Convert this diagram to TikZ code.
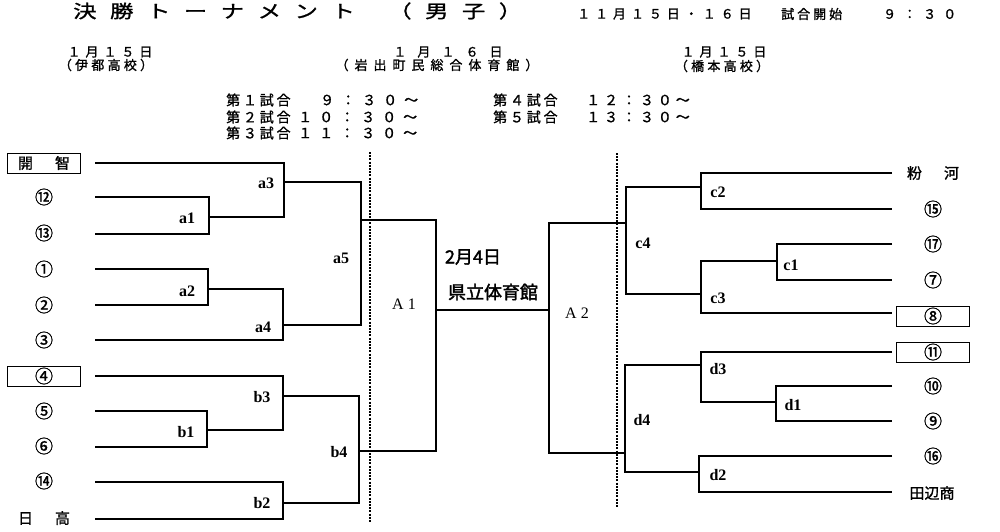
\documentclass[tikz,border=0pt]{standalone}
\usepackage{fontspec}
\setmainfont{Liberation Serif}
\newfontfamily\jp{Noto Sans CJK JP}[FakeBold=1.2]
\newfontfamily\jpbold{Noto Sans CJK JP}[FakeBold=2]
\newfontfamily\jptitle{Noto Sans CJK JP}[FakeStretch=1.3,FakeBold=1.2]
\newcommand\jpls[2]{\jp\fontsize{#1}{#1}\selectfont\addfontfeature{LetterSpace=#2}}

\tikzset{
  bracket/.style={line width=1.1pt},
  divider/.style={line width=1.3pt, dash pattern=on 2pt off 1.2pt},
  team/.style={inner sep=0pt, font=\jp\fontsize{18}{18}\selectfont},
  kanji/.style={inner sep=0pt, font=\jp\fontsize{15}{15}\selectfont},
  seed/.style={draw, line width=1pt, minimum width=73pt, minimum height=20pt,
    inner sep=0pt, font=\jp\fontsize{18}{18}\selectfont},
  match/.style={inner sep=0pt, font=\bfseries\fontsize{16}{16}\selectfont},
  final/.style={inner sep=0pt, font=\fontsize{16}{16}\selectfont},
}

\begin{document}
\begin{tikzpicture}[x=1pt,y=-1pt]
    \useasboundingbox (0,0) rectangle (1000,531);

    % Heading
    \node[anchor=west, inner sep=0pt, font=\jptitle\fontsize{18}{18}\selectfont\addfontfeature{LetterSpace=75}] (title) at (73,11) {決勝トーナメント};
    \node[anchor=west, inner sep=0pt, font=\jptitle\fontsize{18}{18}\selectfont\addfontfeature{LetterSpace=75}] (sex) at (388,11) {（男子）};
    \node[anchor=west, inner sep=0pt, font={\jpls{13}{38}}] (days) at (577,14) {１１月１５日・１６日};
    \node[anchor=west, inner sep=0pt, font={\jpls{13}{23}}] (start) at (781,14) {試合開始};
    \node[anchor=west, inner sep=0pt, font={\jpls{13}{54}}] (time) at (883,14) {９：３０};

    % Venues
    \node[inner sep=0pt, font={\jpls{13}{38}}] (dayL) at (110,52) {１月１５日};
    \node[inner sep=0pt, font={\jpls{13}{25}}] (siteL) at (106,65) {（伊都高校）};
    \node[inner sep=0pt, font={\jpls{13}{85}}] (dayM) at (448,52) {１月１６日};
    \node[inner sep=0pt, font={\jpls{13}{46}}] (siteM) at (437,65) {（岩出町民総合体育館）};
    \node[inner sep=0pt, font={\jpls{13}{38}}] (dayR) at (724,52) {１月１５日};
    \node[inner sep=0pt, font={\jpls{13}{25}}] (siteR) at (722,66) {（橋本高校）};

    % Schedule
    \node[anchor=west, inner sep=0pt, font={\jpls{14}{20}}] (g1) at (226,100) {第１試合};
    \node[anchor=west, inner sep=0pt, font={\jpls{14}{20}}] (g2) at (226,117) {第２試合};
    \node[anchor=west, inner sep=0pt, font={\jpls{14}{20}}] (g3) at (226,133) {第３試合};
    \node[anchor=west, inner sep=0pt, font={\jpls{14}{50}}] (g1t) at (320,100) {９：３０～};
    \node[anchor=west, inner sep=0pt, font={\jpls{14}{50}}] (g2t) at (298,117) {１０：３０～};
    \node[anchor=west, inner sep=0pt, font={\jpls{14}{50}}] (g3t) at (298,133) {１１：３０～};
    \node[anchor=west, inner sep=0pt, font={\jpls{14}{20}}] (g4) at (493,100) {第４試合};
    \node[anchor=west, inner sep=0pt, font={\jpls{14}{20}}] (g5) at (493,117) {第５試合};
    \node[anchor=west, inner sep=0pt, font={\jpls{14}{28}}] (g4t) at (586,100) {１２：３０～};
    \node[anchor=west, inner sep=0pt, font={\jpls{14}{28}}] (g5t) at (586,117) {１３：３０～};

    % Left teams
    \node[seed, font=\jp\fontsize{15}{15}\selectfont] (kaichi) at (44,163) {開\hspace{22pt}智};
    \node[team] (t12) at (44,197) {⑫};
    \node[team] (t13) at (44,233) {⑬};
    \node[team] (t1) at (44,269) {①};
    \node[team] (t2) at (44,305) {②};
    \node[team] (t3) at (44,340) {③};
    \node[seed] (t4) at (44,376) {④};
    \node[team] (t5) at (44,411) {⑤};
    \node[team] (t6) at (44,446) {⑥};
    \node[team] (t14) at (44,481) {⑭};
    \node[kanji] (hidaka) at (44,518) {日\hspace{22pt}高};

    % Right teams
    \node[kanji] (kokawa) at (933,173) {粉\hspace{22pt}河};
    \node[team] (t15) at (933,209) {⑮};
    \node[team] (t17) at (933,244) {⑰};
    \node[team] (t7) at (933,280) {⑦};
    \node[seed] (t8) at (933,316) {⑧};
    \node[seed] (t11) at (933,352) {⑪};
    \node[team] (t10) at (933,386) {⑩};
    \node[team] (t9) at (933,421) {⑨};
    \node[team] (t16) at (933,456) {⑯};
    \node[kanji] (tanabe) at (932,493) {田辺商};

    % Line ends
    \coordinate (lkai) at (95,163);
    \coordinate (l12) at (95,197);
    \coordinate (l13) at (95,234);
    \coordinate (l1) at (95,269);
    \coordinate (l2) at (95,305);
    \coordinate (l3) at (95,340);
    \coordinate (l4) at (95,376);
    \coordinate (l5) at (95,411);
    \coordinate (l6) at (95,447);
    \coordinate (l14) at (95,482);
    \coordinate (lhid) at (95,519);
    \coordinate (rkok) at (892,173);
    \coordinate (r15) at (892,209);
    \coordinate (r17) at (892,244);
    \coordinate (r7) at (892,280);
    \coordinate (r8) at (892,313);
    \coordinate (r11) at (892,352);
    \coordinate (r10) at (892,386);
    \coordinate (r9) at (892,421);
    \coordinate (r16) at (892,456);
    \coordinate (rtan) at (892,492);

    % Match points
    \coordinate (a1) at (209,217);
    \coordinate (a2) at (208,289);
    \coordinate (a3) at (284,182);
    \coordinate (a4) at (283,325);
    \coordinate (a5) at (361,220);
    \coordinate (b1) at (207,430);
    \coordinate (b2) at (283,503);
    \coordinate (b3) at (283,396);
    \coordinate (b4) at (359,451);
    \coordinate (A1) at (436,310);
    \coordinate (A2) at (549,310);
    \coordinate (c1) at (777,261);
    \coordinate (c2) at (701,187);
    \coordinate (c3) at (701,294);
    \coordinate (c4) at (626,223);
    \coordinate (d1) at (776,402);
    \coordinate (d2) at (699,472);
    \coordinate (d3) at (701,365);
    \coordinate (d4) at (625,453);

    % Brackets
    \draw[bracket] (l12) -| (a1) |- (l13);
    \draw[bracket] (l1) -| (a2) |- (l2);
    \draw[bracket] (lkai) -| (a3) |- (a1);
    \draw[bracket] (a2) -| (a4) |- (l3);
    \draw[bracket] (a3) -| (a5) |- (a4);
    \draw[bracket] (l5) -| (b1) |- (l6);
    \draw[bracket] (l14) -| (b2) |- (lhid);
    \draw[bracket] (l4) -| (b3) |- (b1);
    \draw[bracket] (b3) -| (b4) |- (b2);
    \draw[bracket] (a5) -| (A1) |- (b4);
    \draw[bracket] (A1) -- (A2);
    \draw[bracket] (c4) -| (A2) |- (d4);
    \draw[bracket] (rkok) -| (c2) |- (r15);
    \draw[bracket] (r17) -| (c1) |- (r7);
    \draw[bracket] (c1) -| (c3) |- (r8);
    \draw[bracket] (c2) -| (c4) |- (c3);
    \draw[bracket] (r10) -| (d1) |- (r9);
    \draw[bracket] (r11) -| (d3) |- (d1);
    \draw[bracket] (r16) -| (d2) |- (rtan);
    \draw[bracket] (d3) -| (d4) |- (d2);

    % Venue dividers
    \draw[divider] (370,152) -- (370,522);
    \draw[divider] (617,153) -- (617,507);

    % Match labels
    \node[match] (a1-lab) at (187,218) {a1};
    \node[match] (a2-lab) at (187,291) {a2};
    \node[match] (a3-lab) at (266,183) {a3};
    \node[match] (a4-lab) at (263,327) {a4};
    \node[match] (a5-lab) at (341,258) {a5};
    \node[match] (b1-lab) at (186,432) {b1};
    \node[match] (b2-lab) at (262,503) {b2};
    \node[match] (b3-lab) at (262,397) {b3};
    \node[match] (b4-lab) at (339,452) {b4};
    \node[match] (c1-lab) at (791,265) {c1};
    \node[match] (c2-lab) at (718,192) {c2};
    \node[match] (c3-lab) at (718,298) {c3};
    \node[match] (c4-lab) at (643,243) {c4};
    \node[match] (d1-lab) at (793,405) {d1};
    \node[match] (d2-lab) at (718,475) {d2};
    \node[match] (d3-lab) at (718,369) {d3};
    \node[match] (d4-lab) at (642,420) {d4};
    \node[final] (A1-lab) at (404,304) {A 1};
    \node[final] (A2-lab) at (577,313) {A 2};

    % Final venue
    \node[inner sep=0pt, font=\jpbold\fontsize{18}{18}\selectfont] (fday) at (473,257) {2月4日};
    \node[inner sep=0pt, font=\jpbold\fontsize{18}{18}\selectfont] (fsite) at (493,292) {県立体育館};
\end{tikzpicture}
\end{document}
